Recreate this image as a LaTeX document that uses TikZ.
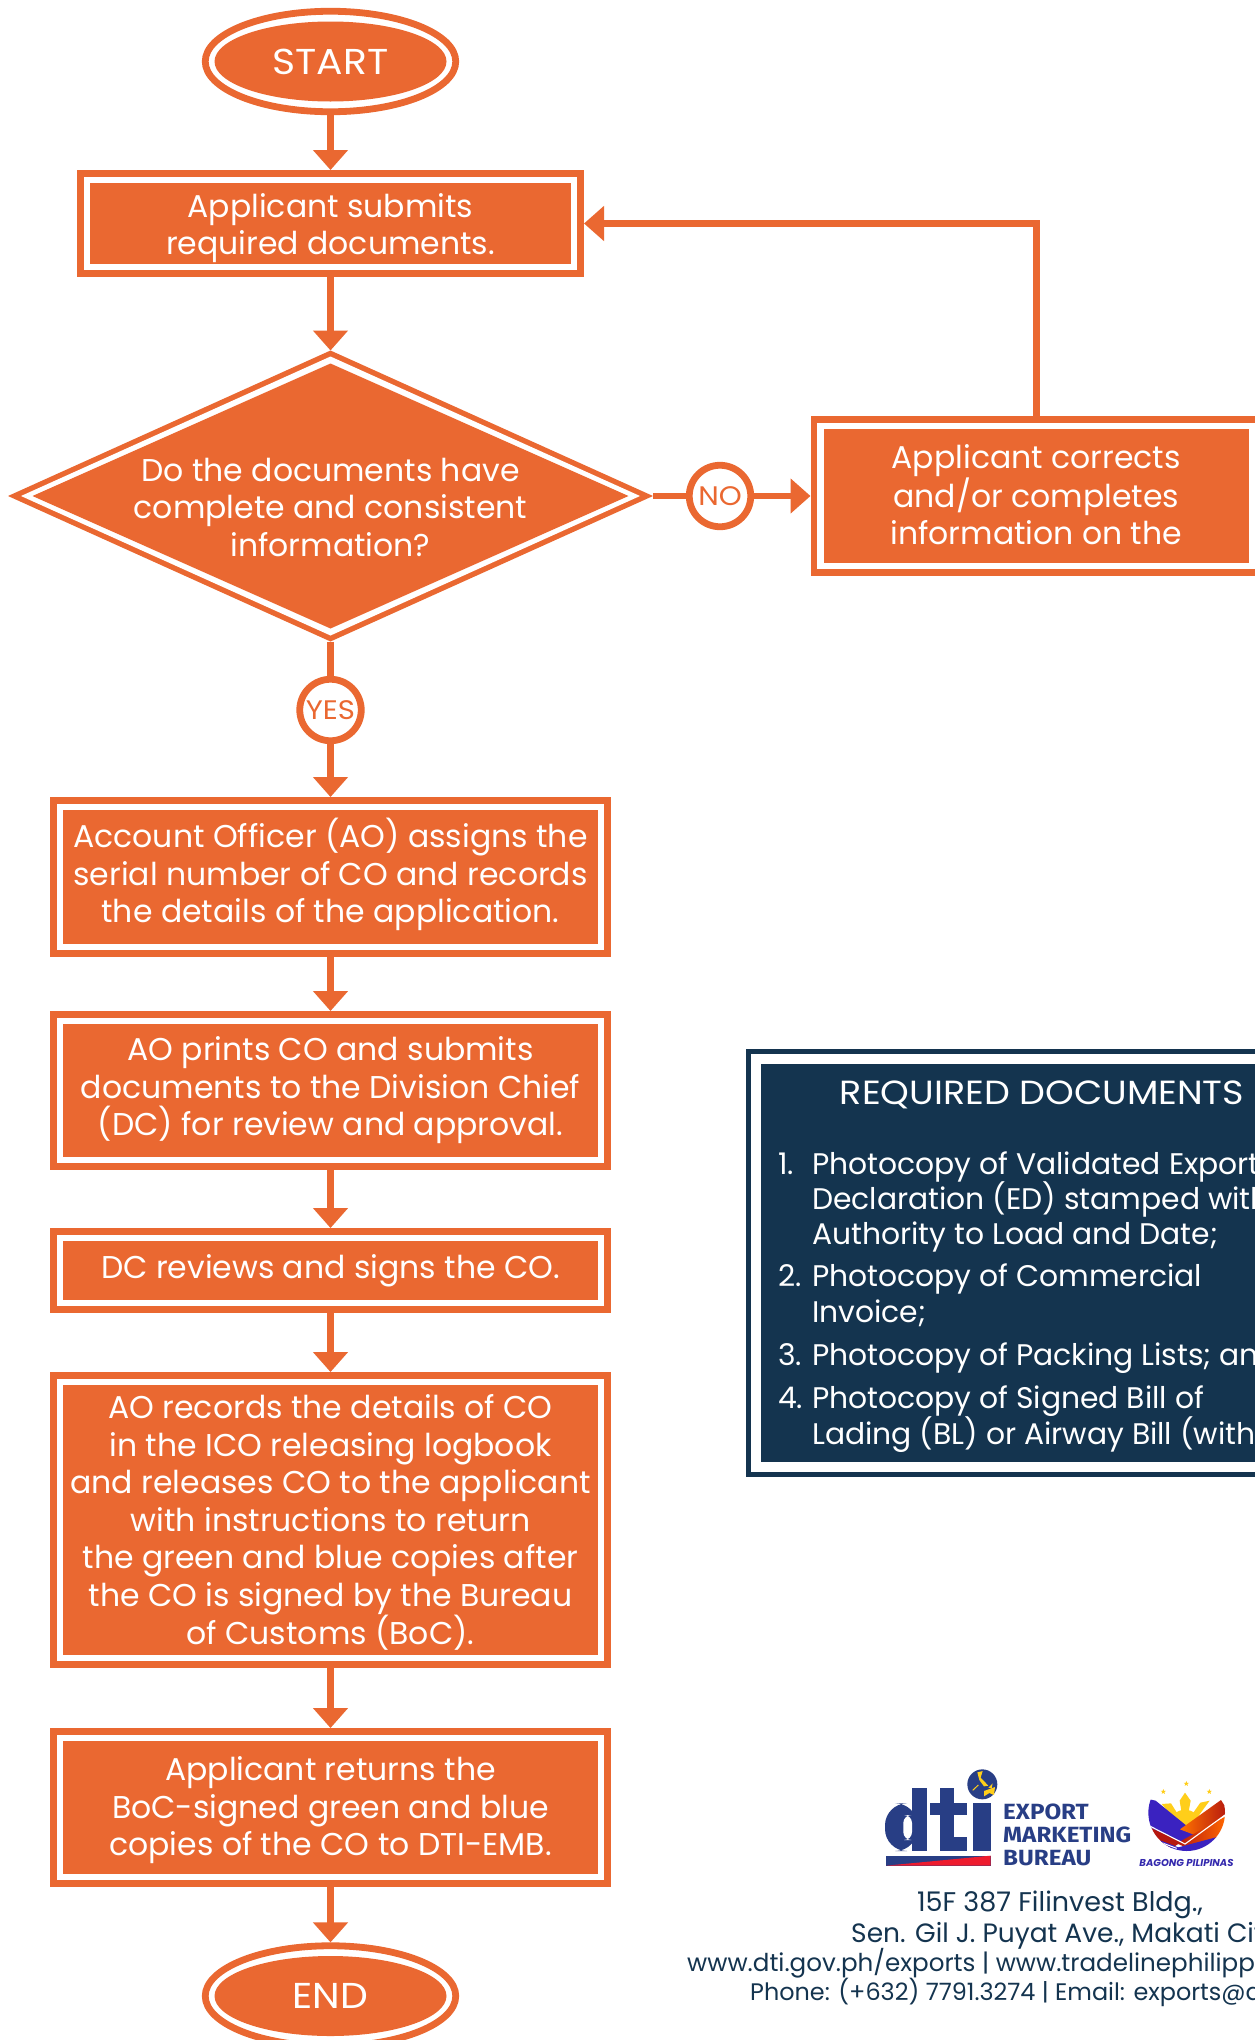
\documentclass[tikz,border=0pt]{standalone}
\usepackage{fontspec}
\setmainfont{Poppins}
\newfontfamily\logofont[FakeStretch=1.1]{Fira Sans}
\newfontfamily\headfont[FakeStretch=1.09]{Poppins}
\usetikzlibrary{shapes.geometric,arrows.meta,calc}
\definecolor{flow}{HTML}{EA6831}
\definecolor{navy}{HTML}{14344F}
\definecolor{dtiblue}{HTML}{283E85}
\definecolor{dtired}{HTML}{EE1C2E}
\definecolor{sunny}{HTML}{FFCE1A}
\definecolor{bpblue}{HTML}{3A22C0}
\definecolor{bpred}{HTML}{B5170F}
\newcommand{\bodysize}{\fontsize{31.5}{37.5}\selectfont}
\tikzset{
  outerbox/.style={rectangle,draw=flow,fill=white,line width=6.8pt,inner sep=0pt},
  innerbox/.style={rectangle,fill=flow,inner sep=0pt},
  boxtext/.style={inner sep=0pt,text=white,align=center,font=\bodysize},
  outerell/.style={ellipse,draw=flow,fill=white,line width=6.8pt,inner sep=0pt,minimum width=250.5pt,minimum height=100.5pt},
  innerell/.style={ellipse,fill=flow,text=white,inner sep=0pt,minimum width=232pt,minimum height=80pt,font=\headfont\fontsize{36}{40}\selectfont},
  tagcirc/.style={circle,draw=flow,fill=white,text=flow,line width=6.8pt,inner sep=0pt,minimum size=61.5pt,font=\headfont\fontsize{26.8}{28}\selectfont},
  flowline/.style={draw=flow,line width=6.8pt,-{Triangle[length=20pt,width=34pt]}},
  plainline/.style={draw=flow,line width=6.8pt},
  doc/.style={anchor=west,inner sep=0pt,text=white,text height=22pt,text depth=6pt,font=\fontsize{29.8}{36}\selectfont},
  foot/.style={inner sep=0pt,text=navy,text height=19pt,text depth=5pt},
  logotxt/.style={anchor=west,inner sep=0pt,text=dtiblue,font=\logofont\bfseries\fontsize{22}{24}\selectfont},
}
\newcommand{\flowbox}[7]{%
  \node[outerbox,minimum width={#4-#2-6.8},minimum height={#5-#3-6.8}] (#1) at ({(#2+#4)/2},{(#3+#5)/2}) {};
  \node[innerbox,minimum width={#4-#2-26},minimum height={#5-#3-26}] (#1-in) at (#1.center) {};
  \node[boxtext] (#1-txt) at ($(#1.center)+(0,#7)$) {#6};
}
\newcommand{\numline}[5]{\node[doc] (#1) at (778,#2) {\makebox[#3pt][l]{#4}#5};}
\begin{document}
\begin{tikzpicture}[x=1pt,y=-1pt]
\useasboundingbox (0,0) rectangle (1255,2040);
\clip (0,0) rectangle (1255,2040);
\fill[white] (0,0) rectangle (1255,2040);

% terminals
\node[outerell] (start) at (330.5,61.5) {};
\node[innerell] (start-in) at (start.center) {START};
\node[outerell] (end) at (330.5,1996) {};
\node[innerell] (end-in) at (end.center) {END};

% decision
\node[diamond,fill=flow,inner sep=0pt,outer sep=0pt,aspect=2.2,minimum width=645pt,minimum height=291pt] (dec) at (330.5,496) {};
\node[diamond,fill=white,inner sep=0pt,outer sep=0pt,aspect=2.2,minimum width=619pt,minimum height=279pt] (dec-w) at (dec.center) {};
\node[diamond,fill=flow,inner sep=0pt,outer sep=0pt,aspect=2.2,minimum width=596pt,minimum height=265pt] (dec-in) at (dec.center) {};
\node[inner sep=0pt,text=white,align=center,font=\bodysize] (dec-txt) at (330.5,507) {Do the documents have\\complete and consistent\\information?};

% process boxes
\flowbox{submit}{77}{170}{584}{277}{Applicant submits\\required documents.}{4.5}
\flowbox{correct}{810.5}{416}{1262}{576}{Applicant corrects\\and/or completes\\information on the}{-1.3}
\flowbox{assign}{50}{797}{611}{957}{Account Officer (AO) assigns the\\serial number of CO and records\\the details of the application.}{-2.6}
\flowbox{print}{50}{1011}{611}{1170}{AO prints CO and submits\\documents to the Division Chief\\(DC) for review and approval.}{0}
\flowbox{review}{50}{1228}{611}{1313}{DC reviews and signs the CO.}{0}
\flowbox{records}{50}{1372}{611}{1668}{AO records the details of CO\\in the ICO releasing logbook\\and releases CO to the applicant\\with instructions to return\\the green and blue copies after\\the CO is signed by the Bureau\\of Customs (BoC).}{2.6}
\flowbox{returns}{50}{1728}{611}{1887}{Applicant returns the\\BoC-signed green and blue\\copies of the CO to DTI-EMB.}{2.6}

% tags
\node[tagcirc] (no) at (720,496) {NO};
\node[tagcirc] (yes) at (330.5,710) {YES};

% connectors
\draw[flowline] (start.south) -- (submit.north);
\draw[flowline] (submit.south) -- (dec.north);
\draw[plainline] (dec.east) -- (no.west);
\draw[flowline] (no.east) -- (correct.west);
\draw[flowline] (correct.north) |- (submit.east);
\draw[plainline] (dec.south) -- (yes.north);
\draw[flowline] (yes.south) -- (assign.north);
\draw[flowline] (assign.south) -- (print.north);
\draw[flowline] (print.south) -- (review.north);
\draw[flowline] (review.south) -- (records.north);
\draw[flowline] (records.south) -- (returns.north);
\draw[flowline] (returns.south) -- (end.north);

% required documents panel
\node[rectangle,draw=navy,fill=white,line width=5pt,inner sep=0pt,minimum width=600pt,minimum height=423pt] (panel) at (1048.5,1263) {};
\node[rectangle,fill=navy,inner sep=0pt,minimum width=600pt,minimum height=398pt] (panel-in) at (1061,1263) {};
\node[inner sep=0pt,text=white,font=\headfont\fontsize{33.5}{36}\selectfont] (panel-head) at (1042,1095) {REQUIRED DOCUMENTS};
\numline{d1}{1166}{34}{1.}{Photocopy of Validated Export}
\numline{d2}{1201}{34}{}{Declaration (ED) stamped with}
\numline{d3}{1236}{34}{}{Authority to Load and Date;}
\numline{d4}{1278}{34}{2.}{Photocopy of Commercial}
\numline{d5}{1314}{34}{}{Invoice;}
\numline{d6}{1357}{34}{3.}{Photocopy of Packing Lists; and}
\numline{d7}{1400}{34}{4.}{Photocopy of Signed Bill of}
\numline{d8}{1436}{34}{}{Lading (BL) or Airway Bill (with}

% footer
\node[foot,anchor=center,font=\fontsize{27}{30}\selectfont] (f1) at (1060,1904.5) {15F 387 Filinvest Bldg.,};
\node[foot,anchor=west,font=\fontsize{26.5}{30}\selectfont] (f2) at (851,1935.5) {Sen. Gil J. Puyat Ave., Makati City};
\node[foot,anchor=west,font=\fontsize{24.6}{30}\selectfont] (f3) at (687,1964) {www.dti.gov.ph/exports | www.tradelinephilippines.dti.gov.ph};
\node[foot,anchor=west,font=\fontsize{23.9}{30}\selectfont] (f4) at (750,1993) {Phone: (+632) 7791.3274 | Email: exports@dti.gov.ph};

% DTI logo
\begin{scope}[shift={(880,1765)},x=0.3333pt,y=-0.3333pt]
  \fill[dtiblue,rounded corners=22pt] (15,115) rectangle (112,258);
  \fill[dtiblue] (95,70) rectangle (142,258);
  \fill[white,rounded corners=8pt] (70,150) rectangle (96,225);
  \fill[dtiblue] (180,70) rectangle (222,258);
  \fill[dtiblue] (150,115) rectangle (262,150);
  \fill[dtiblue] (222,216) rectangle (262,258);
  \fill[dtiblue] (278,115) rectangle (332,258);
  \fill[dtiblue] (18,272) rectangle (332,302);
  \fill[dtired] (18,302) -- (332,272) -- (332,302) -- cycle;
  \fill[white] (307,58) circle (52);
  \fill[dtiblue] (307,58) circle (45);
  \fill[sunny] (292,22) -- (308,18) -- (302,38) -- (325,62) -- (312,64) -- (298,45) -- cycle;
  \fill[sunny] (312,78) -- (345,66) -- (342,90) -- (328,84) -- (312,94) -- cycle;
  \fill[sunny] (325,68) -- (338,55) -- (335,70) -- cycle;
  \draw[sunny,line width=1pt] (278,76) -- (295,60);
\end{scope}
\node[logotxt] (emb1) at (1003,1812) {EXPORT};
\node[logotxt] (emb2) at (1003,1835) {MARKETING};
\node[logotxt] (emb3) at (1003,1858) {BUREAU};

% Bagong Pilipinas emblem
\begin{scope}[shift={(1135,1770)},x=0.3333pt,y=-0.3333pt]
  \foreach \p in {(85,65),(154,41),(223,65)}
    \node[star,star points=5,star point ratio=2.4,fill=sunny,inner sep=0pt,minimum size=5.5pt] at \p {};
  \fill[sunny] (150,68) -- (167,92) -- (160,130) -- (140,130) -- (134,92) -- cycle;
  \fill[sunny] (80,102) -- (108,100) -- (130,135) -- (118,148) -- cycle;
  \fill[sunny] (224,92) -- (196,98) -- (170,135) -- (185,145) -- cycle;
  \fill[sunny] (150,165) circle (46);
  \begin{scope}
    \clip (155,128) circle (115);
    \fill[bpred] (42,170) -- (140,215) -- (110,235) -- (42,205) -- cycle;
    \fill[bpblue] (30,85) -- (62,92) -- (195,200) -- (150,220) -- (30,165) -- cycle;
    \shade[left color=orange!90!red,right color=bpred] (135,178) -- (258,90) -- (280,125) -- (192,200) -- cycle;
    \shade[left color=bpred,right color=orange!80!red] (125,220) -- (270,140) -- (260,195) -- (170,240) -- cycle;
    \fill[bpblue] (60,205) -- (130,232) -- (250,200) -- (200,250) -- (100,250) -- cycle;
    \draw[white,line width=1.1pt] (38,165) -- (150,222) -- (270,135);
    \draw[white,line width=1pt] (45,205) -- (125,235);
  \end{scope}
\end{scope}
\node[inner sep=0pt,text=bpblue!70!dtiblue,font=\bfseries\itshape\fontsize{10}{12}\selectfont] (bp) at (1186.5,1862.5) {BAGONG PILIPINAS};
\end{tikzpicture}
\end{document}
